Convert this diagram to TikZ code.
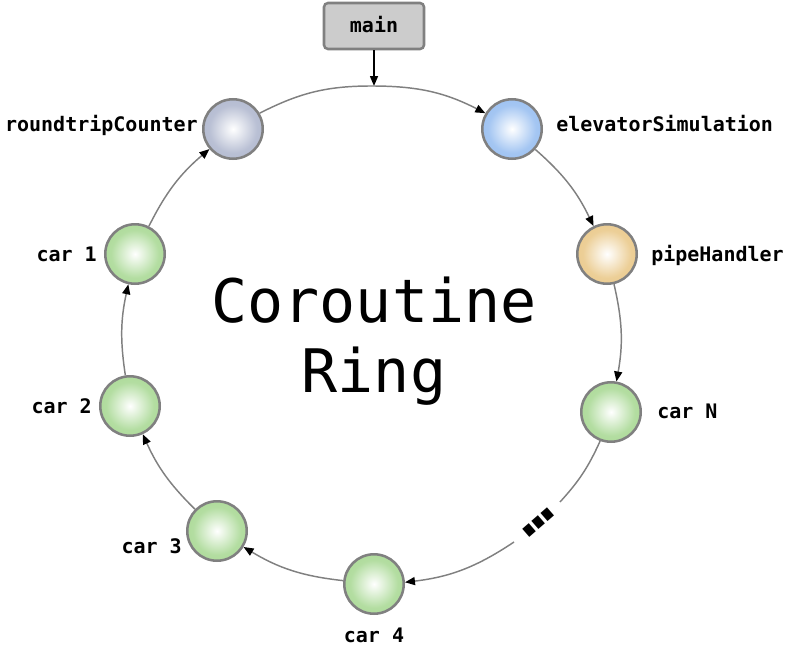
\documentclass[tikz,border=0pt]{standalone}
\usepackage{fontspec}
\setmonofont{DejaVu Sans Mono}
\usetikzlibrary{arrows.meta}
\definecolor{ringgray}{HTML}{808080}
\definecolor{boxfill}{HTML}{CCCCCC}
\definecolor{greenc}{HTML}{9AD282}
\definecolor{bluec}{HTML}{86B3EE}
\definecolor{orangec}{HTML}{E6BF75}
\definecolor{slatec}{HTML}{A2ABC6}
\makeatletter
\pgfdeclareradialshading[tikz@radial@outer,tikz@radial@inner]{ballshade}{\pgfpointorigin}{%
  color(0bp)=(tikz@radial@inner);
  color(20bp)=(tikz@radial@outer!75!tikz@radial@inner);
  color(50bp)=(tikz@radial@outer)}
\makeatother
\begin{document}
\begin{tikzpicture}[x=0.75pt,y=-0.75pt,
  co/.style={circle, minimum size=44.6pt, inner sep=0pt, draw=ringgray, line width=1.9pt,
             inner color=white, outer color=#1, shading=ballshade},
  lbl/.style={font=\ttfamily\bfseries\fontsize{15}{18}\selectfont, inner sep=0pt},
  ttl/.style={font=\ttfamily\fontsize{45}{54}\selectfont, inner sep=0pt},
  dotsstyle/.style={font=\ttfamily\bfseries\fontsize{45}{54}\selectfont, inner sep=0pt},
  ring/.style={draw=ringgray, line width=1.1pt, -{Triangle[length=7.5pt,width=6pt,black]}},
  plain/.style={draw=ringgray, line width=1.1pt},
  mainbox/.style={draw=ringgray, fill=boxfill, line width=1.9pt, rounded corners=3pt,
             minimum width=75pt, minimum height=34.5pt, inner sep=0pt},
  mainarrow/.style={draw=black, line width=1.1pt, -{Triangle[length=7.5pt,width=6pt,black]}}]
\useasboundingbox (0,0) rectangle (789,653);

% nodes
\node[mainbox] (main) at (374,26) {};
\node[lbl, anchor=base] (mainl) at (374,32) {main};
\node[co=slatec]  (rc) at (233,129) {};
\node[co=bluec]   (es) at (512,129) {};
\node[co=orangec] (ph) at (607,254) {};
\node[co=greenc]  (cN) at (611,412) {};
\node[co=greenc]  (c4) at (374,584) {};
\node[co=greenc]  (c3) at (217,531) {};
\node[co=greenc]  (c2) at (130,406) {};
\node[co=greenc]  (c1) at (135,254) {};

\coordinate (top) at (374,86);
\coordinate (gapA) at (560,502);
\coordinate (gapB) at (514,542);

% labels
\node[lbl, anchor=base east] (rcl) at (198,131) {roundtripCounter};
\node[lbl, anchor=base west] (esl) at (556,131) {elevatorSimulation};
\node[lbl, anchor=base west] (phl) at (651,261) {pipeHandler};
\node[lbl, anchor=base west] (cNl) at (657,418) {car N};
\node[lbl, anchor=base]      (c4l) at (374,642) {car 4};
\node[lbl, anchor=base east] (c3l) at (182,553) {car 3};
\node[lbl, anchor=base east] (c2l) at (92,413) {car 2};
\node[lbl, anchor=base east] (c1l) at (97,261) {car 1};

\node[dotsstyle, anchor=base, rotate=41] (dots) at (542,527) {…};

\node[ttl, anchor=base] (t1) at (374,322) {Coroutine};
\node[ttl, anchor=base] (t2) at (374,392) {Ring};

% connectors
\draw[mainarrow] (main) -- (top);
\draw[ring] (rc) to[bend left=13.7] (top) to[bend left=13.4] (es);
\draw[ring] (es) to[bend left=11.5] (ph);
\draw[ring] (ph) to[bend left=11.6] (cN);
\draw[plain] (cN) to[bend left=9] (gapA);
\draw[ring] (gapB) to[bend left=13.5] (c4);
\draw[ring] (c4) to[bend left=12.4] (c3);
\draw[ring] (c3) to[bend left=10.5] (c2);
\draw[ring] (c2) to[bend left=10.5] (c1);
\draw[ring] (c1) to[bend left=11.5] (rc);
\end{tikzpicture}
\end{document}
